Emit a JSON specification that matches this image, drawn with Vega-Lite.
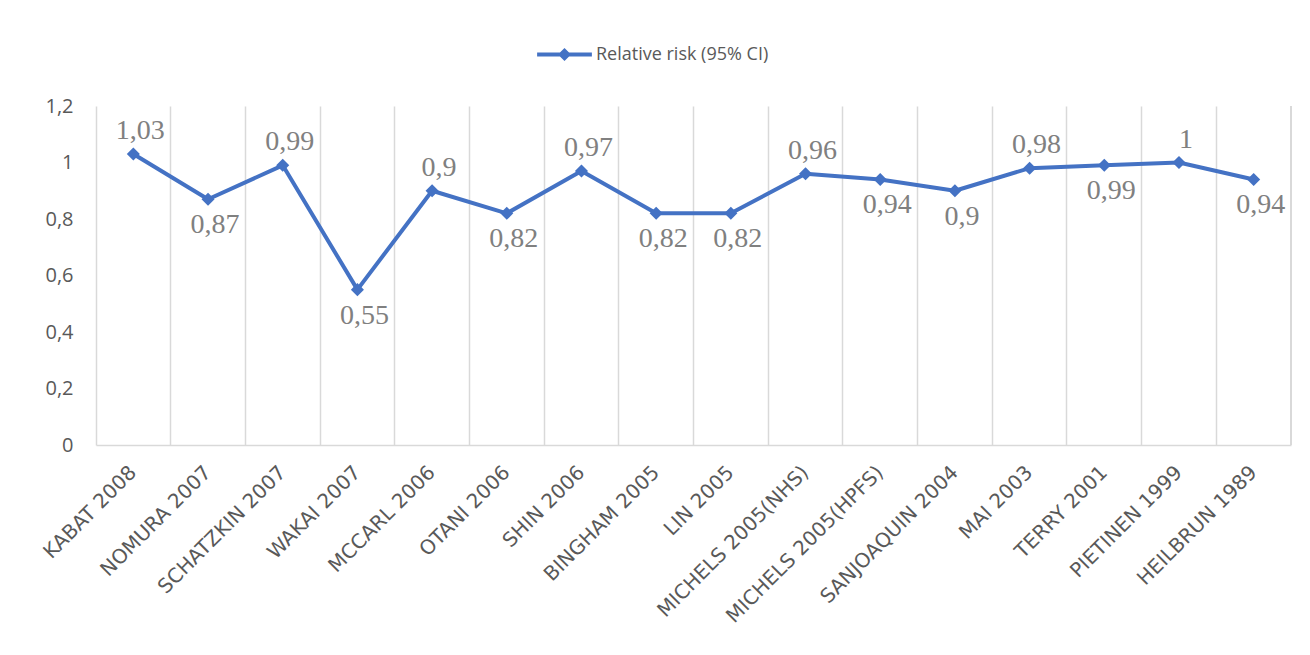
{
  "$schema": "https://vega.github.io/schema/vega-lite/v6.json",
  "width": 1195,
  "height": 339,
  "autosize": {"type": "none"},
  "padding": {"left": 96, "top": 106, "right": 19, "bottom": 210},
  "background": "white",
  "config": {
    "view": {"stroke": null}
  },
  "data": {
    "values": [
      {"study": "KABAT 2008", "rr": 1.03, "side": "above"},
      {"study": "NOMURA 2007", "rr": 0.87, "side": "below"},
      {"study": "SCHATZKIN 2007", "rr": 0.99, "side": "above"},
      {"study": "WAKAI 2007", "rr": 0.55, "side": "below"},
      {"study": "MCCARL 2006", "rr": 0.9, "side": "above"},
      {"study": "OTANI 2006", "rr": 0.82, "side": "below"},
      {"study": "SHIN 2006", "rr": 0.97, "side": "above"},
      {"study": "BINGHAM 2005", "rr": 0.82, "side": "below"},
      {"study": "LIN 2005", "rr": 0.82, "side": "below"},
      {"study": "MICHELS 2005(NHS)", "rr": 0.96, "side": "above"},
      {"study": "MICHELS 2005(HPFS)", "rr": 0.94, "side": "below"},
      {"study": "SANJOAQUIN 2004", "rr": 0.9, "side": "below"},
      {"study": "MAI 2003", "rr": 0.98, "side": "above"},
      {"study": "TERRY 2001", "rr": 0.99, "side": "below"},
      {"study": "PIETINEN 1999", "rr": 1, "side": "above"},
      {"study": "HEILBRUN 1989", "rr": 0.94, "side": "below"}
    ]
  },
  "transform": [
    {"calculate": "replace(toString(datum.rr), '.', ',')", "as": "label"}
  ],
  "encoding": {
    "x": {
      "field": "study",
      "type": "nominal",
      "sort": ["KABAT 2008", "NOMURA 2007", "SCHATZKIN 2007", "WAKAI 2007", "MCCARL 2006", "OTANI 2006", "SHIN 2006", "BINGHAM 2005", "LIN 2005", "MICHELS 2005(NHS)", "MICHELS 2005(HPFS)", "SANJOAQUIN 2004", "MAI 2003", "TERRY 2001", "PIETINEN 1999", "HEILBRUN 1989"],
      "title": null,
      "scale": {"type": "band", "paddingInner": 0, "paddingOuter": 0},
      "axis": {
        "bandPosition": 0,
        "grid": true,
        "gridColor": "#d9d9d9",
        "gridWidth": 1.5,
        "domainColor": "#d9d9d9",
        "domainWidth": 1.5,
        "ticks": false,
        "labelAngle": -45,
        "labelAlign": "right",
        "labelBaseline": "middle",
        "labelPadding": 24,
        "labelLimit": 0,
        "labelFont": "DejaVu Sans",
        "labelFontSize": 20,
        "labelColor": "#595959"
      }
    },
    "y": {
      "field": "rr",
      "type": "quantitative",
      "title": null,
      "scale": {"domain": [0, 1.2], "nice": false, "zero": true},
      "axis": {
        "values": [0, 0.2, 0.4, 0.6, 0.8, 1, 1.2],
        "labelExpr": "replace(toString(datum.value), '.', ',')",
        "grid": false,
        "domain": false,
        "ticks": false,
        "labelPadding": 23,
        "labelFont": "Open Sans",
        "labelFontSize": 20,
        "labelColor": "#595959"
      }
    }
  },
  "layer": [
    {
      "mark": {"type": "line", "strokeWidth": 4, "strokeJoin": "round"},
      "encoding": {
        "color": {
          "datum": "Relative risk (95% CI)",
          "scale": {"range": ["#4472C4"]},
          "legend": {
            "title": null,
            "orient": "none",
            "legendX": 441,
            "legendY": -79,
            "symbolType": "M-1,-0.075L1,-0.075L1,0.075L-1,0.075Z M0,-0.24L0.24,0L0,0.24L-0.24,0Z",
            "symbolSize": 3000,
            "symbolFillColor": "#4472C4",
            "symbolStrokeWidth": 0,
            "labelFont": "Open Sans",
            "labelFontSize": 18,
            "labelLimit": 0,
            "labelColor": "#595959",
            "labelOffset": 4
          }
        }
      }
    },
    {
      "mark": {"type": "point", "shape": "diamond", "filled": true, "size": 170, "color": "#4472C4", "opacity": 1}
    },
    {
      "transform": [{"filter": "datum.side === 'above'"}],
      "mark": {"type": "text", "font": "Liberation Serif", "fontSize": 28, "color": "#808080", "dx": 7, "dy": -23, "baseline": "middle"},
      "encoding": {"text": {"field": "label"}}
    },
    {
      "transform": [{"filter": "datum.side === 'below'"}],
      "mark": {"type": "text", "font": "Liberation Serif", "fontSize": 28, "color": "#808080", "dx": 7, "dy": 26, "baseline": "middle"},
      "encoding": {"text": {"field": "label"}}
    },
    {
      "mark": {"type": "rule", "color": "#d9d9d9", "strokeWidth": 1.5},
      "encoding": {
        "x": {"value": "width"},
        "y": {"datum": 0},
        "y2": {"datum": 1.2}
      }
    }
  ]
}
